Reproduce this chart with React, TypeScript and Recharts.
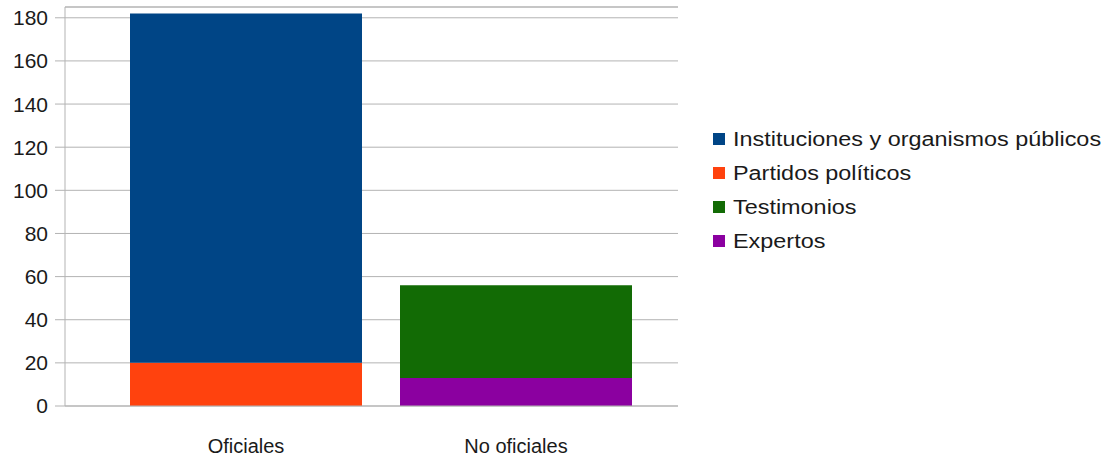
import React from "react";
import {
  BarChart,
  Bar,
  XAxis,
  YAxis,
  CartesianGrid,
  ReferenceLine,
} from "recharts";

const categories = ["Oficiales", "No oficiales"];
const partidos = [20, 0];
const expertos = [0, 13];
const instituciones = [162, 0];
const testimonios = [0, 43];
const yTicks = [0, 20, 40, 60, 80, 100, 120, 140, 160, 180];

const series = [
  { key: "instituciones", name: "Instituciones y organismos públicos", color: "#004586" },
  { key: "partidos", name: "Partidos políticos", color: "#ff420e" },
  { key: "testimonios", name: "Testimonios", color: "#126b05" },
  { key: "expertos", name: "Expertos", color: "#8b00a0" },
];

const data = categories.map((c, i) => ({
  category: c,
  partidos: partidos[i],
  expertos: expertos[i],
  instituciones: instituciones[i],
  testimonios: testimonios[i],
}));

const colorOf = (k: string) => series.find((s) => s.key === k)!.color;

const FONT = "Liberation Sans, Arial, sans-serif";

// legend is drawn outside the chart so it doesn't eat into the plot margins
const LegendBox = () => (
  <div
    style={{
      position: "absolute",
      left: 713,
      top: 122,
      fontFamily: FONT,
      fontSize: 20,
      color: "#1a1a1a",
    }}
  >
    {series.map((s) => (
      <div key={s.key} style={{ display: "flex", alignItems: "center", height: 34, whiteSpace: "nowrap" }}>
        <span style={{ display: "inline-block", width: 12, height: 12, background: s.color, marginRight: 8 }} />
        <span style={{ display: "inline-block", transform: "scaleX(1.17)", transformOrigin: "left center" }}>
          {s.name}
        </span>
      </div>
    ))}
  </div>
);

const App: React.FC = () => {
  return (
    <div style={{ position: "absolute", left: 0, top: 0, width: 1111, height: 458 }}>
      <BarChart
        width={1111}
        height={458}
        data={data}
        margin={{ top: 7, right: 433, bottom: 0, left: 0 }}
        style={{ fontFamily: FONT }}
      >
        <CartesianGrid vertical={false} stroke="#b3b3b3" />
        <XAxis
          dataKey="category"
          height={52}
          padding={{ left: 46, right: 27 }}
          axisLine={{ stroke: "#b3b3b3" }}
          tickLine={false}
          tickMargin={27}
          tick={{ fill: "#1a1a1a", fontSize: 20 }}
        />
        <YAxis
          width={65}
          domain={[0, 185]}
          ticks={yTicks}
          interval={0}
          axisLine={{ stroke: "#b3b3b3" }}
          tickLine={{ stroke: "#b3b3b3" }}
          tickSize={10}
          tickMargin={7}
          tick={{ fill: "#1a1a1a", fontSize: 21 }}
        />
        <YAxis
          yAxisId="right"
          orientation="right"
          width={0}
          domain={[0, 185]}
          tick={false}
          tickLine={false}
          axisLine={{ stroke: "#b3b3b3" }}
        />
        <ReferenceLine y={185} stroke="#b3b3b3" />
        <Bar dataKey="partidos" name="Partidos políticos" stackId="a" fill={colorOf("partidos")} barSize={232} isAnimationActive={false} />
        <Bar dataKey="expertos" name="Expertos" stackId="a" fill={colorOf("expertos")} barSize={232} isAnimationActive={false} />
        <Bar dataKey="instituciones" name="Instituciones y organismos públicos" stackId="a" fill={colorOf("instituciones")} barSize={232} isAnimationActive={false} />
        <Bar dataKey="testimonios" name="Testimonios" stackId="a" fill={colorOf("testimonios")} barSize={232} isAnimationActive={false} />
      </BarChart>
      <LegendBox />
    </div>
  );
};

export default App;
